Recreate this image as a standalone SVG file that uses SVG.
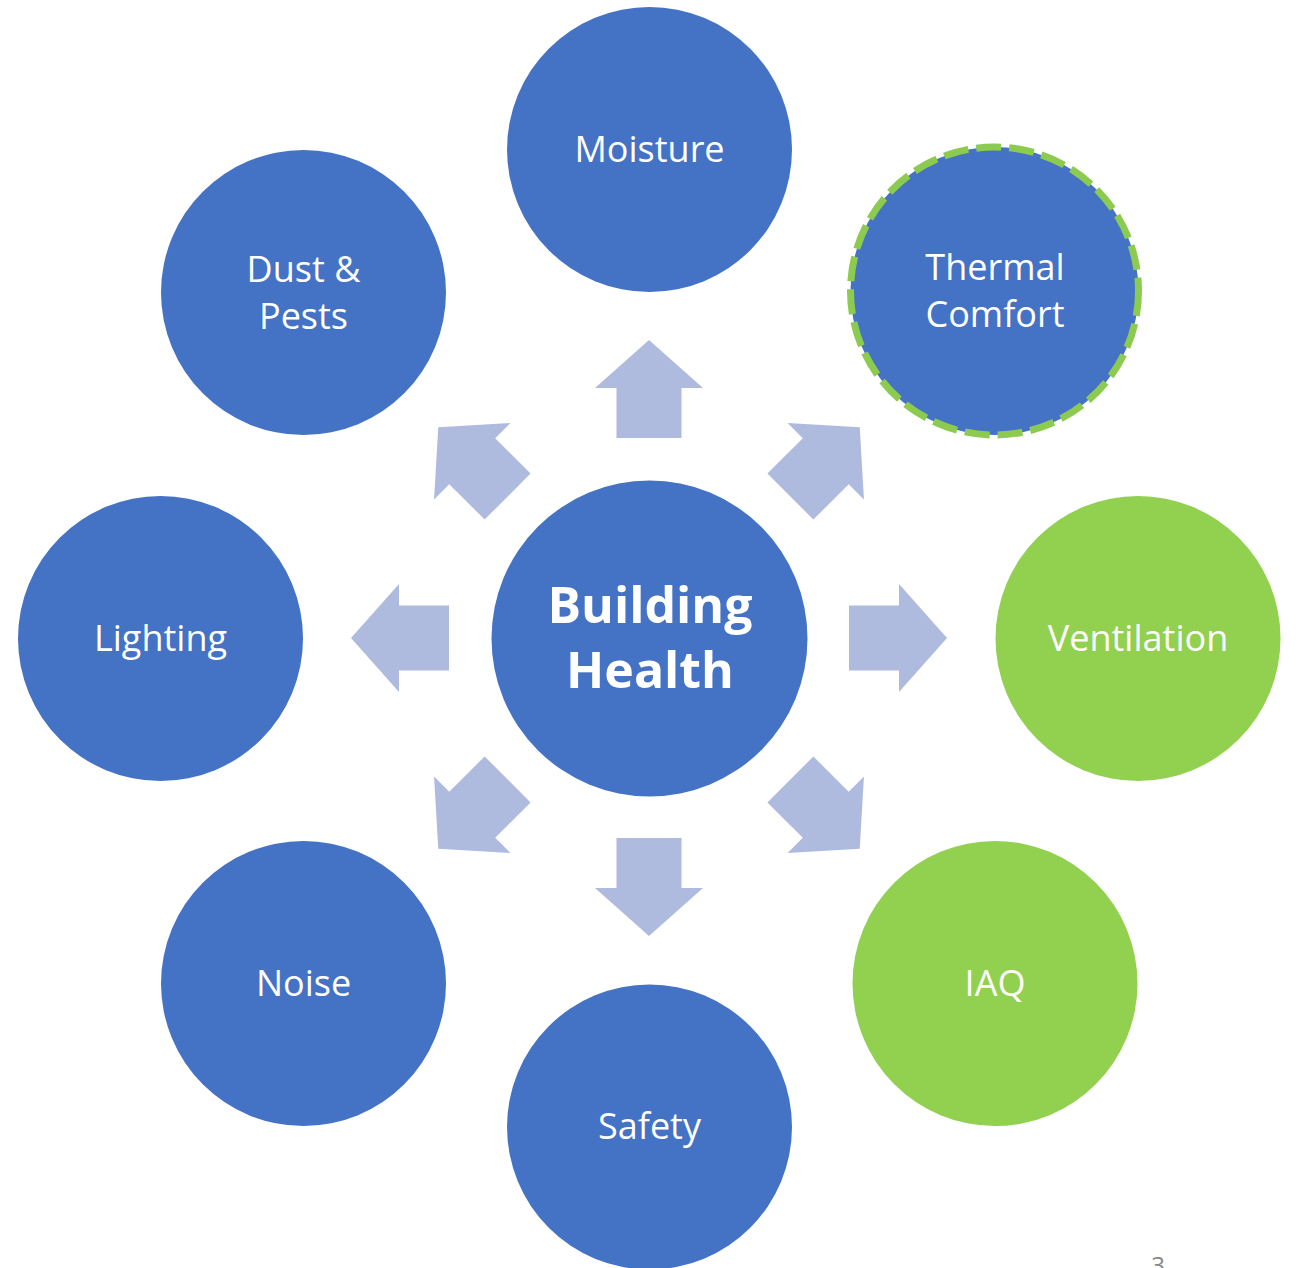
<svg xmlns="http://www.w3.org/2000/svg" width="1299" height="1268" viewBox="0 0 1299 1268">
<style>
.blue{fill:#4472C4}
.green{fill:#92D050}
.arrow{fill:#AFBBDE}
.lbl{font-family:"Open Sans","Liberation Sans",sans-serif;font-size:36px;fill:#FFFFFF;text-anchor:middle}
.big{font-family:"Open Sans","Liberation Sans",sans-serif;font-size:50px;font-weight:bold;fill:#FFFFFF;text-anchor:middle}
.dash{fill:none;stroke:#8CCB50;stroke-width:7;stroke-dasharray:25 8}
</style>
<defs>
<path id="arr" d="M200,-32.5 L250,-32.5 L250,-54 L298,0 L250,54 L250,32.5 L200,32.5 Z"/>
</defs>
<rect width="1299" height="1268" fill="#FFFFFF"/>
<g id="connectors" class="arrow">
<use href="#arr" transform="translate(649,638) rotate(-90)"/>
<use href="#arr" transform="translate(649,638) rotate(-45)"/>
<use href="#arr" transform="translate(649,638) rotate(0)"/>
<use href="#arr" transform="translate(649,638) rotate(45)"/>
<use href="#arr" transform="translate(649,638) rotate(90)"/>
<use href="#arr" transform="translate(649,638) rotate(135)"/>
<use href="#arr" transform="translate(649,638) rotate(180)"/>
<use href="#arr" transform="translate(649,638) rotate(225)"/>
</g>
<g id="center">
<circle class="blue" cx="649.5" cy="638.5" r="158"/>
<text class="big" x="650" y="623">Building</text>
<text class="big" x="650" y="688">Health</text>
</g>
<g id="moisture">
<circle class="blue" cx="649.5" cy="149.5" r="142.5"/>
<text class="lbl" x="649.5" y="162">Moisture</text>
</g>
<g id="thermal">
<circle class="blue" cx="994.5" cy="291" r="144"/>
<circle class="dash" cx="994.5" cy="291" r="144"/>
<text class="lbl" x="995" y="280">Thermal</text>
<text class="lbl" x="995" y="327">Comfort</text>
</g>
<g id="ventilation">
<circle class="green" cx="1138" cy="638.5" r="142.5"/>
<text class="lbl" x="1138" y="651">Ventilation</text>
</g>
<g id="iaq">
<circle class="green" cx="995" cy="983.5" r="142.5"/>
<text class="lbl" x="995" y="996">IAQ</text>
</g>
<g id="safety">
<circle class="blue" cx="649.5" cy="1127" r="142.5"/>
<text class="lbl" x="649.5" y="1139">Safety</text>
</g>
<g id="noise">
<circle class="blue" cx="303.5" cy="983.5" r="142.5"/>
<text class="lbl" x="303.5" y="996">Noise</text>
</g>
<g id="lighting">
<circle class="blue" cx="160.5" cy="638.5" r="142.5"/>
<text class="lbl" x="160.5" y="651">Lighting</text>
</g>
<g id="dust">
<circle class="blue" cx="303.5" cy="292.5" r="142.5"/>
<text class="lbl" x="303.5" y="282">Dust &amp;</text>
<text class="lbl" x="303.5" y="329">Pests</text>
</g>
<text x="1158" y="1274" font-family="'Open Sans','Liberation Sans',sans-serif" font-size="24" fill="#888888" text-anchor="middle">3</text>
</svg>
